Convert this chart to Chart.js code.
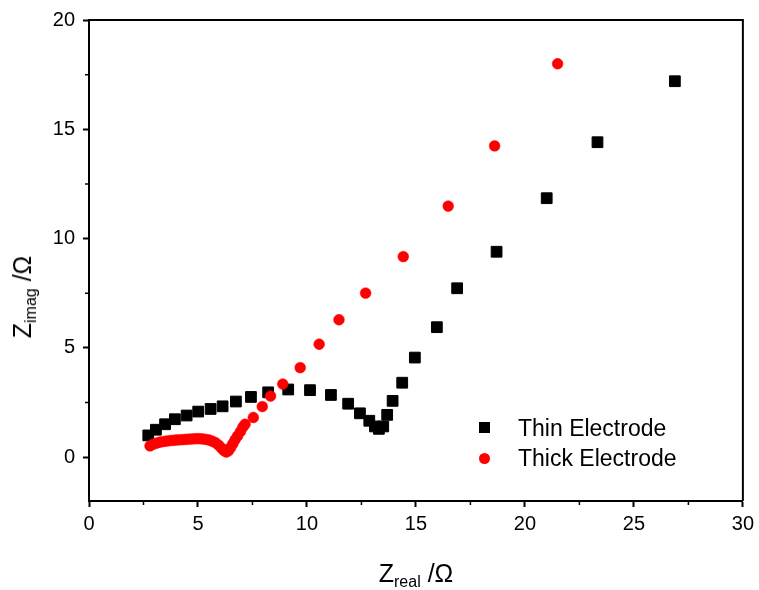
<!DOCTYPE html>
<html>
<head>
<meta charset="utf-8">
<script src="https://cdn.jsdelivr.net/npm/chart.js@4"></script>
<style>
  html, body { margin: 0; padding: 0; background: #fff; }
  #wrap { position: relative; width: 759px; height: 590px; font-family: "Liberation Sans", Arial, sans-serif; color: #000; }
  canvas { position: absolute; left: 0; top: 0; }
  .title { position: absolute; font-size: 25px; line-height: 30px; white-space: nowrap; }
  .title span { font-size: 16px; vertical-align: -5px; line-height: 0; }
  .leg { position: absolute; font-size: 23px; line-height: 30px; white-space: nowrap; }
  .mk { position: absolute; width: 11px; height: 11px; }
</style>
</head>
<body>
<div id="wrap">
  <canvas id="c" width="759" height="590"></canvas>
  <div class="title" style="left:89px; width:654px; top:558px; text-align:center;">Z<span>real</span> /Ω</div>
  <div class="title" style="left:22px; top:297px; transform:translate(-50%,-50%) rotate(-90deg);">Z<span>imag</span> /Ω</div>
  <div class="mk" style="left:479px; top:422px; background:#000;"></div>
  <div class="leg" style="left:518px; top:413px;">Thin Electrode</div>
  <div class="mk" style="left:479px; top:453px; background:#ff0000; border-radius:50%;"></div>
  <div class="leg" style="left:518px; top:443px;">Thick Electrode</div>
</div>
<script>
// Nyquist data (Z real, Z imag in ohm)
const thinX = [2.72, 3.07, 3.49, 3.94, 4.48, 5.01, 5.58, 6.13, 6.74, 7.43, 8.22, 9.14, 10.14, 11.10, 11.89,
  12.43, 12.86, 13.12, 13.30, 13.50, 13.68, 13.93, 14.37, 14.95, 15.96, 16.89, 18.70, 21.00, 23.33, 26.88];
const thinY = [1.00, 1.26, 1.51, 1.74, 1.91, 2.09, 2.21, 2.33, 2.55, 2.76, 2.97, 3.10, 3.07, 2.85, 2.45,
  2.01, 1.67, 1.41, 1.30, 1.41, 1.94, 2.58, 3.41, 4.56, 5.95, 7.73, 9.40, 11.85, 14.41, 17.20];

const thickX = [2.80, 2.95, 3.10, 3.25, 3.40, 3.55, 3.70, 3.85, 4.00, 4.15, 4.30, 4.45, 4.60, 4.75, 4.90,
  5.05, 5.20, 5.35, 5.50, 5.65, 5.80, 5.95, 6.08, 6.20, 6.30, 6.40, 6.50, 6.60, 6.70, 6.82, 6.95, 7.06, 7.16,
  7.54, 7.95, 8.33, 8.89, 9.69, 10.56, 11.47, 12.69, 14.42, 16.48, 18.61, 21.50];
const thickY = [0.52, 0.60, 0.65, 0.69, 0.72, 0.74, 0.76, 0.77, 0.79, 0.80, 0.81, 0.82, 0.83, 0.84, 0.85,
  0.85, 0.84, 0.82, 0.79, 0.74, 0.67, 0.55, 0.42, 0.30, 0.24, 0.30, 0.45, 0.62, 0.80, 0.98, 1.18, 1.38, 1.51,
  1.82, 2.32, 2.80, 3.35, 4.10, 5.17, 6.29, 7.51, 9.18, 11.49, 14.24, 18.00];

const xTicks = [0, 5, 10, 15, 20, 25, 30];
const yTicks = [0, 5, 10, 15, 20];
const xMinor = [2.5, 7.5, 12.5, 17.5, 22.5, 27.5];
const yMinor = [2.5, 7.5, 12.5, 17.5];

const toPoints = (xs, ys) => xs.map((x, i) => ({ x: x, y: ys[i] }));

// closes the box and adds the short minor ticks
const framePlugin = {
  id: "frame",
  afterDraw(chart) {
    const { ctx, chartArea: a, scales } = chart;
    ctx.save();
    ctx.strokeStyle = "#000";
    ctx.lineWidth = 2;
    ctx.beginPath();
    ctx.moveTo(a.left, a.top);
    ctx.lineTo(a.right, a.top);
    ctx.lineTo(a.right, a.bottom);
    ctx.stroke();
    ctx.lineWidth = 1.5;
    ctx.beginPath();
    xMinor.forEach((v) => {
      const px = scales.x.getPixelForValue(v);
      ctx.moveTo(px, a.bottom);
      ctx.lineTo(px, a.bottom + 4);
    });
    yMinor.forEach((v) => {
      const py = scales.y.getPixelForValue(v);
      ctx.moveTo(a.left, py);
      ctx.lineTo(a.left - 4, py);
    });
    ctx.stroke();
    ctx.restore();
  },
};

const tickFont = { family: "'Liberation Sans', Arial, sans-serif", size: 20 };

new Chart(document.getElementById("c"), {
  type: "scatter",
  data: {
    datasets: [
      {
        label: "Thin Electrode",
        data: toPoints(thinX, thinY),
        pointStyle: "rect",
        pointRadius: 7.6,
        backgroundColor: "#000",
        borderColor: "#000",
        borderWidth: 1,
        order: 1,
      },
      {
        label: "Thick Electrode",
        data: toPoints(thickX, thickY),
        pointStyle: "circle",
        pointRadius: 5.4,
        backgroundColor: "#ff0000",
        borderColor: "#ff0000",
        borderWidth: 0.5,
        order: 0,
      },
    ],
  },
  options: {
    responsive: false,
    animation: false,
    layout: { padding: { left: 0, top: 17, right: 16, bottom: 0 } },
    plugins: { legend: { display: false }, tooltip: { enabled: false } },
    scales: {
      x: {
        type: "linear",
        min: 0,
        max: 30,
        afterBuildTicks: (s) => { s.ticks = xTicks.map((v) => ({ value: v })); },
        afterFit: (s) => { s.height = 89; },
        ticks: { font: tickFont, color: "#000", padding: 5, maxRotation: 0 },
        grid: { drawOnChartArea: false, tickLength: 6, tickWidth: 2, tickColor: "#000" },
        border: { color: "#000", width: 2 },
      },
      y: {
        type: "linear",
        min: -2,
        max: 20,
        afterBuildTicks: (s) => { s.ticks = yTicks.map((v) => ({ value: v })); },
        afterFit: (s) => { s.width = 89; },
        ticks: { font: tickFont, color: "#000", padding: 8 },
        grid: { drawOnChartArea: false, tickLength: 6, tickWidth: 2, tickColor: "#000" },
        border: { color: "#000", width: 2 },
      },
    },
  },
  plugins: [framePlugin],
});
</script>
</body>
</html>
